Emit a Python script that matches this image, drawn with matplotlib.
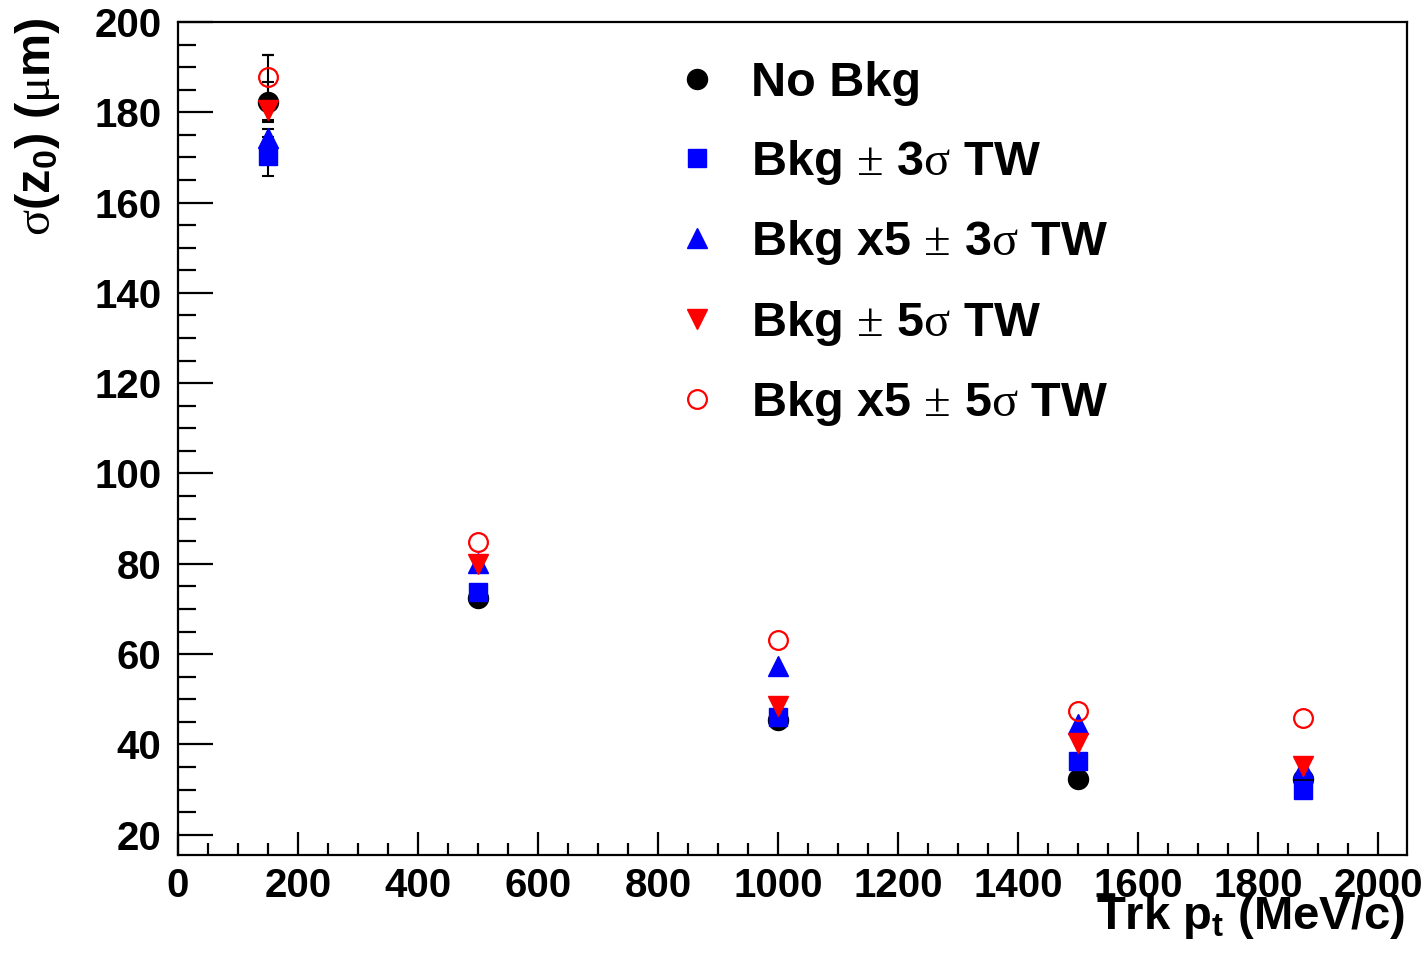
import matplotlib
matplotlib.use("Agg")
import numpy as np
import matplotlib.pyplot as plt
from matplotlib.ticker import MultipleLocator

# fonts: bold sans for text, upright serif for the greek letters
plt.rcParams['font.family'] = ['Liberation Sans', 'DejaVu Sans']
plt.rcParams['font.weight'] = 'bold'
plt.rcParams['mathtext.fontset'] = 'custom'
plt.rcParams['mathtext.rm'] = 'Liberation Serif:normal'
plt.rcParams['mathtext.it'] = 'Liberation Serif:normal'
plt.rcParams['mathtext.bf'] = 'Liberation Sans:bold'

nan = np.nan

# track pt [MeV/c]
pt = [150, 500, 1000, 1500, 1875]

# sigma(z0) [um] and errors for each background scenario
# (errors smaller than the marker are not drawn)
no_bkg = [182.3, 72.4, 45.5, 32.3, 32.4]
no_bkg_err = [4.4, nan, nan, nan, nan]
bkg_3s = [170.3, 73.7, 46.0, 36.3, 29.8]
bkg_3s_err = [4.3, nan, nan, nan, nan]
bkgx5_3s = [174.2, 80.2, 57.3, 44.6, 34.8]
bkgx5_3s_err = [2.0, nan, nan, nan, nan]
bkg_5s = [180.5, 80.0, 48.6, 40.3, 35.3]
bkg_5s_err = [2.2, nan, nan, nan, nan]
bkgx5_5s = [187.8, 84.8, 63.1, 47.3, 45.8]
bkgx5_5s_err = [4.9, nan, nan, nan, nan]

labels = ["No Bkg",
          r"Bkg $\pm$ 3$\sigma$ TW",
          r"Bkg x5 $\pm$ 3$\sigma$ TW",
          r"Bkg $\pm$ 5$\sigma$ TW",
          r"Bkg x5 $\pm$ 5$\sigma$ TW"]

fig = plt.figure(figsize=(14.27, 9.57), dpi=100)
ax = fig.add_axes([0.1247, 0.1066, 0.8613, 0.8704])

series = [
    (no_bkg, no_bkg_err, dict(marker='o', ms=14.4, mfc='black', mec='black')),
    (bkg_3s, bkg_3s_err, dict(marker='s', ms=13.5, mfc='blue', mec='blue')),
    (bkgx5_3s, bkgx5_3s_err, dict(marker='^', ms=14, mfc='blue', mec='blue')),
    (bkg_5s, bkg_5s_err, dict(marker='v', ms=14, mfc='red', mec='red')),
    (bkgx5_5s, bkgx5_5s_err, dict(marker='o', ms=13.5, mfc='none', mec='red', mew=1.6)),
]
handles = []
for (vals, errs, style), lab in zip(series, labels):
    h = ax.errorbar(pt, vals, yerr=errs, linestyle='none', ecolor='black',
                    elinewidth=1.5, capsize=4, capthick=1.5, label=lab, **style)
    handles.append(h)

ax.set_xlim(0, 2048)
ax.set_ylim(15.5, 200)
ax.xaxis.set_major_locator(MultipleLocator(200))
ax.xaxis.set_minor_locator(MultipleLocator(50))
ax.yaxis.set_major_locator(MultipleLocator(20))
ax.yaxis.set_minor_locator(MultipleLocator(5))
ax.tick_params(axis='both', which='both', direction='in', width=1.6, labelsize=29)
ax.tick_params(axis='y', which='major', length=25, pad=12)
ax.tick_params(axis='y', which='minor', length=13)
ax.tick_params(axis='x', which='major', length=16.5, pad=9)
ax.tick_params(axis='x', which='minor', length=8.5)
for sp in ax.spines.values():
    sp.set_linewidth(1.6)

fig.text(1405 / 1427, 1 - 929 / 957, r"Trk $\mathbf{p_t}$ (MeV/c)",
         ha='right', va='baseline', fontsize=34, fontweight='bold')
fig.text(38 / 1427, 1 - 18 / 957, r"$\sigma$($\mathbf{z_0}$) ($\mu$m)",
         ha='center', va='top', rotation=90, fontsize=35, fontweight='bold')

leg = ax.legend(handles=[h[0] for h in handles], labels=labels, loc='upper left',
                bbox_to_anchor=(672.5 / 1427, 1 - 61 / 957), bbox_transform=fig.transFigure,
                frameon=False, fontsize=35, handlelength=1.0, handletextpad=0.62,
                borderpad=0, borderaxespad=0, labelspacing=0.65, numpoints=1)

fig.savefig("out.png", dpi=100)
